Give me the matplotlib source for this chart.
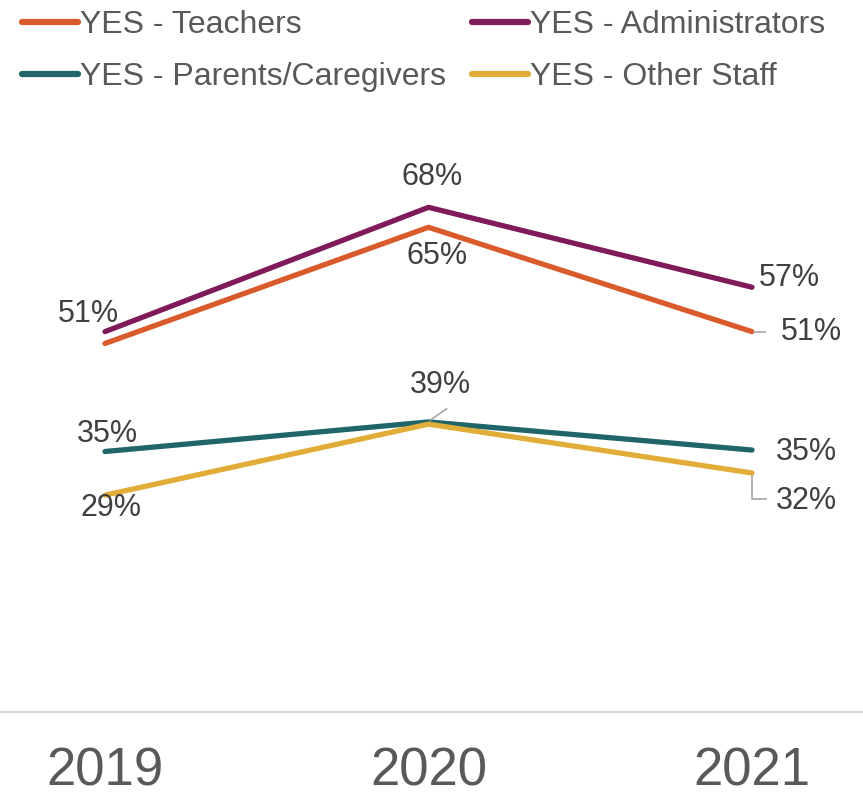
import matplotlib
matplotlib.use("Agg")
import matplotlib.pyplot as plt

years = ["2019", "2020", "2021"]
teachers = [49.8, 65.5, 51.4]
administrators = [51.4, 68.2, 57.4]
parents = [35.2, 39.2, 35.4]
other_staff = [29.3, 38.9, 32.3]

series_names = ["YES - Teachers", "YES - Administrators",
                "YES - Parents/Caregivers", "YES - Other Staff"]
colors = ["#D95B2B", "#801B5B", "#1F6569", "#E1AD38"]

plt.rcParams['font.family'] = ['Liberation Sans', 'DejaVu Sans']

fig = plt.figure(figsize=(8.63, 7.96), dpi=100)
ax = fig.add_axes([0, 84/796, 1, 592/796])
x = list(range(len(years)))
data = [teachers, administrators, parents, other_staff]
handles = []
for vals, c, name in zip(data, colors, series_names):
    h, = ax.plot(x, vals, color=c, lw=3.8, solid_capstyle='round', label=name)
    handles.append(h)

ax.set_xlim(-105/323.5, (863-105)/323.5)
ax.set_ylim(0, 80)
for s in ["top", "left", "right"]:
    ax.spines[s].set_visible(False)
ax.spines["bottom"].set_color("#D9D9D9")
ax.spines["bottom"].set_linewidth(1.5)
ax.set_yticks([])
ax.set_xticks(x)
ax.set_xticklabels(years, fontsize=38, color="#595959")
ax.tick_params(axis='x', length=0, pad=25)

lab_c = "#404040"
fs = 22
def lab(xi, yv, txt, dx, dy):
    ax.annotate(txt, (xi, yv), xytext=(dx, dy), textcoords='offset pixels',
                ha='center', va='center', fontsize=fs, color=lab_c)

# data labels
lab(0, administrators[0], "51%", -17, 18)
lab(1, administrators[1], "68%", 4, 30)
lab(1, teachers[1], "65%", 9, -29)
lab(2, administrators[2], "57%", 37, 9)
lab(2, teachers[2], "51%", 59, 0)
lab(0, parents[0], "35%", 2, 18)
lab(1, parents[1], "39%", 12, 37)
lab(2, parents[2], "35%", 54, -2)
lab(0, other_staff[0], "29%", 6, -13)
lab(2, other_staff[2], "32%", 54, -28)

# leader lines
lc = "#A6A6A6"
def px2data(xi, yv, dx, dy):
    disp = ax.transData.transform((xi, yv))
    return ax.transData.inverted().transform((disp[0] + dx, disp[1] + dy))
fig.canvas.draw()
p1 = px2data(2, teachers[2], 2, 0); p2 = px2data(2, teachers[2], 13, 0)
ax.plot([p1[0], p2[0]], [p1[1], p2[1]], color=lc, lw=1.2)
p1 = px2data(1, parents[1], 2, 2); p2 = px2data(1, parents[1], 18, 13)
ax.plot([p1[0], p2[0]], [p1[1], p2[1]], color=lc, lw=1.2)
p1 = px2data(2, other_staff[2], 0, -3); p2 = px2data(2, other_staff[2], 0, -26)
p3 = px2data(2, other_staff[2], 14, -26)
ax.plot([p1[0], p2[0], p3[0]], [p1[1], p2[1], p3[1]], color=lc, lw=1.2)

# legend: row-wise order (Teachers, Administrators / Parents, Other Staff)
order = [0, 2, 1, 3]
leg = fig.legend(handles=[handles[i] for i in order], loc='upper left',
                 bbox_to_anchor=(22/863, 1 - 10/796),
                 ncol=2, frameon=False, fontsize=23, handlelength=1.75,
                 handletextpad=0.06, columnspacing=0.81, labelspacing=0.69,
                 borderpad=0, borderaxespad=0)
for t in leg.get_texts():
    t.set_color("#595959")
for l in leg.get_lines():
    l.set_linewidth(4.5)

fig.savefig("out.png", dpi=100)
